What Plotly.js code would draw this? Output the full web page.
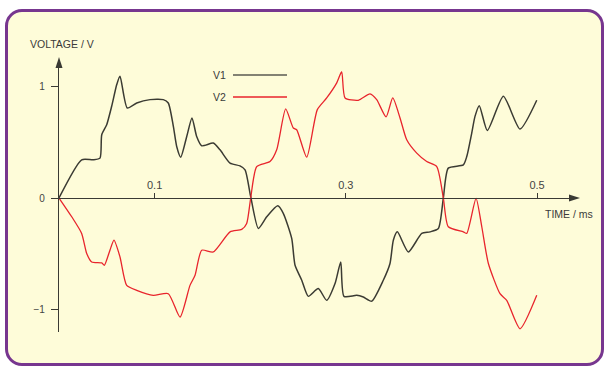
<!DOCTYPE html>
<html>
<head>
<meta charset="utf-8">
<script src="https://cdn.plot.ly/plotly-3.0.1.min.js"></script>
<style>
  html, body { margin: 0; padding: 0; background: #ffffff; }
  #frame { position: absolute; left: 5px; top: 9px; width: 599px; height: 357px; box-sizing: border-box;
           border: 3px solid #77368f; border-radius: 17px; background: #fefcd9; }
  #chart { position: absolute; left: 0; top: 0; width: 607px; height: 367px; }
</style>
</head>
<body>
<div id="frame"></div>
<div id="chart"></div>
<script>
// time in ms, voltage in V
const t1 = [0, 0.0237, 0.0359, 0.0429, 0.0447, 0.0499, 0.0551, 0.0604, 0.0638, 0.0714, 0.0813, 0.0952, 0.1091, 0.1143, 0.1196, 0.1231, 0.1273, 0.1336, 0.1391, 0.1440, 0.1493, 0.1614, 0.1684, 0.1789, 0.1893, 0.1946, 0.1998, 0.2008,
  0.2085, 0.2173, 0.2288, 0.2346, 0.2434, 0.2469, 0.2539, 0.2608, 0.2712, 0.2800, 0.2887, 0.2947, 0.2981, 0.3114, 0.3183, 0.3271, 0.3392, 0.3462, 0.3497, 0.3539, 0.3654, 0.3794, 0.3881, 0.3968, 0.4020,
  0.4072, 0.4229, 0.4265, 0.4317, 0.4351, 0.4396, 0.4480, 0.4648, 0.4822, 0.4997];
const v1 = [0, 0.344, 0.344, 0.359, 0.570, 0.660, 0.826, 1.022, 1.097, 0.811, 0.856, 0.886, 0.886, 0.856, 0.645, 0.464, 0.368, 0.554, 0.721, 0.554, 0.470, 0.495, 0.434, 0.314, 0.289, 0.253, 0.042, 0,
  -0.274, -0.169, -0.070, -0.138, -0.364, -0.606, -0.741, -0.886, -0.816, -0.922, -0.771, -0.576, -0.886, -0.877, -0.892, -0.929, -0.741, -0.590, -0.380, -0.305, -0.486, -0.319, -0.305, -0.274, 0,
  0.269, 0.298, 0.373, 0.585, 0.735, 0.832, 0.608, 0.916, 0.621, 0.880];

const t2 = [0, 0.0133, 0.0237, 0.0290, 0.0342, 0.0447, 0.0474, 0.0533, 0.0575, 0.0638, 0.0708, 0.0813, 0.0986, 0.1143, 0.1266, 0.1370, 0.1423, 0.1493, 0.1614, 0.1789, 0.1911, 0.1963, 0.2005,
  0.2068, 0.2207, 0.2277, 0.2371, 0.2451, 0.2486, 0.2591, 0.2702, 0.2800, 0.2905, 0.2957, 0.2992, 0.3131, 0.3253, 0.3323, 0.3421, 0.3491, 0.3567, 0.3637, 0.3742, 0.3846, 0.3951, 0.4020,
  0.4072, 0.4229, 0.4265, 0.4362, 0.4422, 0.4491, 0.4613, 0.4683, 0.4822, 0.4997];
const v2 = [0, -0.169, -0.319, -0.500, -0.576, -0.585, -0.606, -0.470, -0.380, -0.531, -0.787, -0.832, -0.877, -0.862, -1.073, -0.787, -0.696, -0.470, -0.486, -0.305, -0.283, -0.229, 0,
  0.283, 0.328, 0.434, 0.802, 0.630, 0.615, 0.368, 0.796, 0.901, 1.037, 1.137, 0.901, 0.880, 0.938, 0.886, 0.730, 0.901, 0.721, 0.524, 0.404, 0.328, 0.283, 0,
  -0.259, -0.305, -0.319, -0.003, -0.259, -0.590, -0.862, -0.922, -1.178, -0.877];

const xTickVals = [0.1, 0.3, 0.5];
const xTickText = ['0.1', '0.3', '0.5'];
const yTickVals = [-1, 0, 1];
const yTickText = ['\u22121', '0', '1'];
const seriesNames = ['V1', 'V2'];
const xTitle = 'TIME / ms';
const yTitle = 'VOLTAGE / V';

const X_RANGE = [0, 0.5418];
const Y_RANGE = [-1.207, 1.243];
const M = {l: 59, r: 30, t: 60, b: 35};
const W = 607, H = 367;
const PW = W - M.l - M.r, PH = H - M.t - M.b;
// pixel helpers -> paper coords
const px = p => (p - M.l) / PW;
const py = p => (H - M.b - p) / PH;

const axisColor = '#3a3a34';
const c1 = '#3b3b33', c2 = '#e8242c';
const textFont = {family: 'Liberation Sans, Arial, sans-serif', size: 10.5, color: '#3a3a3a'};

const traces = [
  {x: t1, y: v1, name: seriesNames[0], mode: 'lines', line: {color: c1, width: 1.5, shape: 'spline', smoothing: 0.6}, hoverinfo: 'skip'},
  {x: t2, y: v2, name: seriesNames[1], mode: 'lines', line: {color: c2, width: 1.3, shape: 'spline', smoothing: 0.6}, hoverinfo: 'skip'}
];

const yZeroPaper = (0 - Y_RANGE[0]) / (Y_RANGE[1] - Y_RANGE[0]);

const layout = {
  width: W, height: H,
  margin: M,
  paper_bgcolor: 'rgba(0,0,0,0)',
  plot_bgcolor: 'rgba(0,0,0,0)',
  showlegend: false,
  xaxis: {
    range: X_RANGE, anchor: 'free', position: yZeroPaper, side: 'top',
    showline: true, linecolor: axisColor, linewidth: 1.2,
    ticks: 'outside', ticklen: 5, tickwidth: 1, tickcolor: axisColor,
    tickvals: xTickVals, ticktext: xTickText,
    tickfont: {family: 'Liberation Sans, Arial, sans-serif', size: 11, color: '#444'},
    showgrid: false, zeroline: false, fixedrange: true
  },
  yaxis: {
    range: Y_RANGE,
    showline: true, linecolor: axisColor, linewidth: 1.2,
    ticks: 'outside', ticklen: 7, tickwidth: 1, tickcolor: axisColor,
    ticklabelstandoff: 4,
    tickvals: yTickVals, ticktext: yTickText,
    tickfont: {family: 'Liberation Sans, Arial, sans-serif', size: 10, color: '#444'},
    showgrid: false, zeroline: false, fixedrange: true
  },
  shapes: [
    // arrowhead on y axis
    {type: 'path', xref: 'paper', yref: 'paper', fillcolor: axisColor, line: {width: 0},
     path: `M ${px(55.5)} ${py(68)} L ${px(59)} ${py(57)} L ${px(62.5)} ${py(68)} Z`},
    // arrowhead on x axis
    {type: 'path', xref: 'paper', yref: 'paper', fillcolor: axisColor, line: {width: 0},
     path: `M ${px(569)} ${py(194.5)} L ${px(580)} ${py(198)} L ${px(569)} ${py(201.5)} Z`},
    // legend samples
    {type: 'line', xref: 'paper', yref: 'paper', x0: px(233), x1: px(287), y0: py(75), y1: py(75), line: {color: '#5a5a50', width: 1.5}},
    {type: 'line', xref: 'paper', yref: 'paper', x0: px(233), x1: px(287), y0: py(97), y1: py(97), line: {color: c2, width: 1.3}}
  ],
  annotations: [
    {xref: 'paper', yref: 'paper', x: px(28), y: py(44), xanchor: 'left', yanchor: 'middle', text: yTitle, showarrow: false, font: textFont},
    {xref: 'paper', yref: 'paper', x: px(543), y: py(214), xanchor: 'left', yanchor: 'middle', text: xTitle, showarrow: false, font: textFont},
    {xref: 'paper', yref: 'paper', x: px(228), y: py(75), xanchor: 'right', yanchor: 'middle', text: seriesNames[0], showarrow: false, font: textFont},
    {xref: 'paper', yref: 'paper', x: px(228), y: py(97), xanchor: 'right', yanchor: 'middle', text: seriesNames[1], showarrow: false, font: textFont}
  ]
};

Plotly.newPlot('chart', traces, layout, {staticPlot: true, displayModeBar: false});
</script>
</body>
</html>
